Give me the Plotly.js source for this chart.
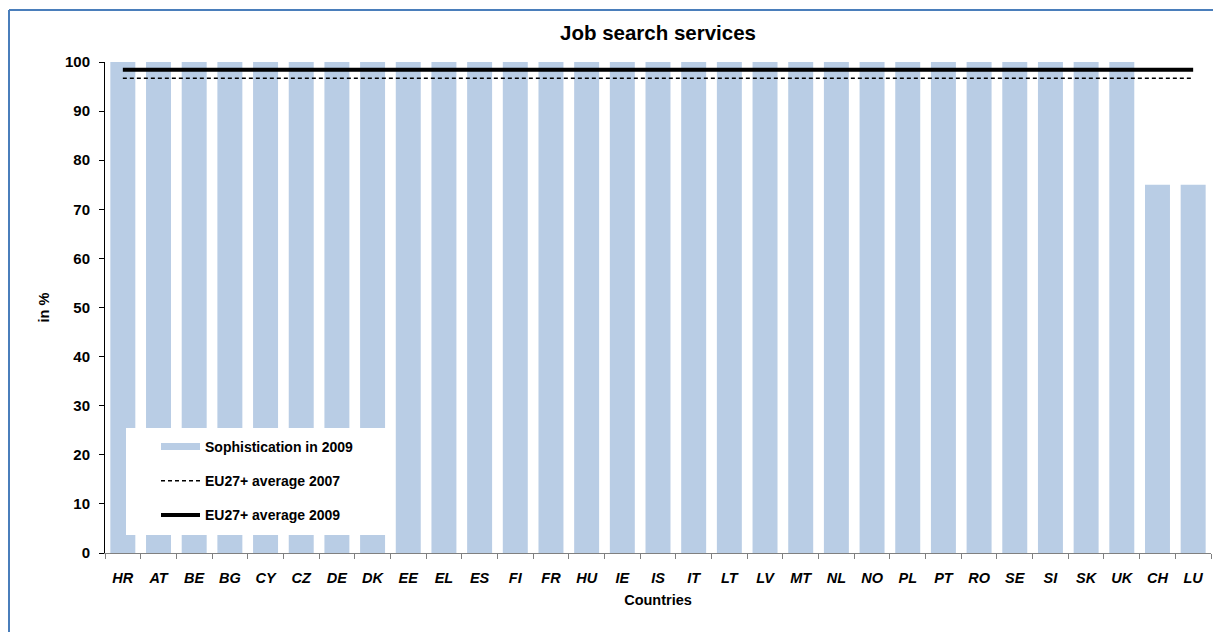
<!DOCTYPE html>
<html>
<head>
<meta charset="utf-8">
<script src="https://cdn.plot.ly/plotly-3.0.1.min.js"></script>
<style>
html,body{margin:0;padding:0;background:#fff;}
#chart{width:1213px;height:632px;}
</style>
</head>
<body>
<div id="chart"></div>
<script>
const countries = ["HR","AT","BE","BG","CY","CZ","DE","DK","EE","EL","ES","FI","FR","HU","IE","IS","IT","LT","LV","MT","NL","NO","PL","PT","RO","SE","SI","SK","UK","CH","LU"];
const sophistication2009 = [100,100,100,100,100,100,100,100,100,100,100,100,100,100,100,100,100,100,100,100,100,100,100,100,100,100,100,100,100,75,75];
const avg2007 = 96.7;
const avg2009 = 98.4;
const yTicks = [0,10,20,30,40,50,60,70,80,90,100];
const seriesNames = ["Sophistication in 2009", "EU27+ average 2007", "EU27+ average 2009"];

const font = {family: "Liberation Sans, Arial, sans-serif", color: "#000"};
const barColor = "#b9cde5";

const traces = [
  {type: "bar", x: countries, y: sophistication2009, name: seriesNames[0],
   marker: {color: barColor}, showlegend: false},
  // legend entry for the bar series (wide swatch like the original)
  {type: "scatter", mode: "lines", x: [null], y: [null], name: "<b>" + seriesNames[0] + "</b>",
   line: {color: barColor, width: 7}, legendgroup: "a"},
  {type: "scatter", mode: "lines", x: countries, y: countries.map(() => avg2007),
   name: "<b>" + seriesNames[1] + "</b>", line: {color: "#000", width: 1.6, dash: "4px,3px"}, legendgroup: "b"},
  {type: "scatter", mode: "lines", x: countries, y: countries.map(() => avg2009),
   name: "<b>" + seriesNames[2] + "</b>", line: {color: "#000", width: 4}, legendgroup: "c"}
];

const layout = {
  width: 1213, height: 632,
  margin: {l: 105, r: 2, t: 62, b: 79},
  paper_bgcolor: "#fff", plot_bgcolor: "#fff",
  font: Object.assign({size: 14}, font),
  bargap: 0.3,
  showlegend: true,
  title: {text: "<b>Job search services</b>", font: Object.assign({size: 20.5}, font), x: 0.5, xref: "paper", y: 0.948, yanchor: "middle"},
  xaxis: {
    type: "category", tickson: "boundaries", ticks: "outside", ticklen: 5, tickcolor: "#808080",
    ticklabelstandoff: 12,
    showline: true, linecolor: "#808080", linewidth: 1, showgrid: false, zeroline: false,
    tickfont: Object.assign({size: 14.5, weight: "bold", style: "italic"}, font),
    title: {text: "<b>Countries</b>", font: Object.assign({size: 14.5}, font), standoff: 9}
  },
  yaxis: {
    range: [0, 100], tickvals: yTicks, ticks: "outside", ticklen: 5, tickcolor: "#000",
    ticklabelstandoff: 6,
    showline: true, linecolor: "#000", linewidth: 1, showgrid: false, zeroline: false,
    tickfont: Object.assign({size: 15, weight: "bold"}, font),
    title: {text: "<b>in %</b>", font: Object.assign({size: 14.5}, font), standoff: 11}
  },
  legend: {
    x: (156-105)/1106, y: (553-431)/491, xanchor: "left", yanchor: "top",
    bgcolor: "rgba(0,0,0,0)", borderwidth: 0, itemwidth: 39,
    font: Object.assign({size: 14}, font),
    tracegroupgap: 13, traceorder: "grouped"
  },
  shapes: [
    {type: "rect", xref: "paper", yref: "paper", layer: "above",
     x0: (126-105)/1106, x1: (386-105)/1106, y0: (553-535)/491, y1: (553-428)/491,
     fillcolor: "#fff", line: {width: 0}},
    {type: "line", xref: "paper", yref: "paper", layer: "above",
     x0: (9-105)/1106, x1: 1.05, y0: (553-10)/491, y1: (553-10)/491,
     line: {color: "#4a7ebb", width: 2}},
    {type: "line", xref: "paper", yref: "paper", layer: "above",
     x0: (9-105)/1106, x1: (9-105)/1106, y0: (553-10)/491, y1: -0.3,
     line: {color: "#4a7ebb", width: 2}}
  ]
};

Plotly.newPlot("chart", traces, layout, {displayModeBar: false, staticPlot: true});
</script>
</body>
</html>
